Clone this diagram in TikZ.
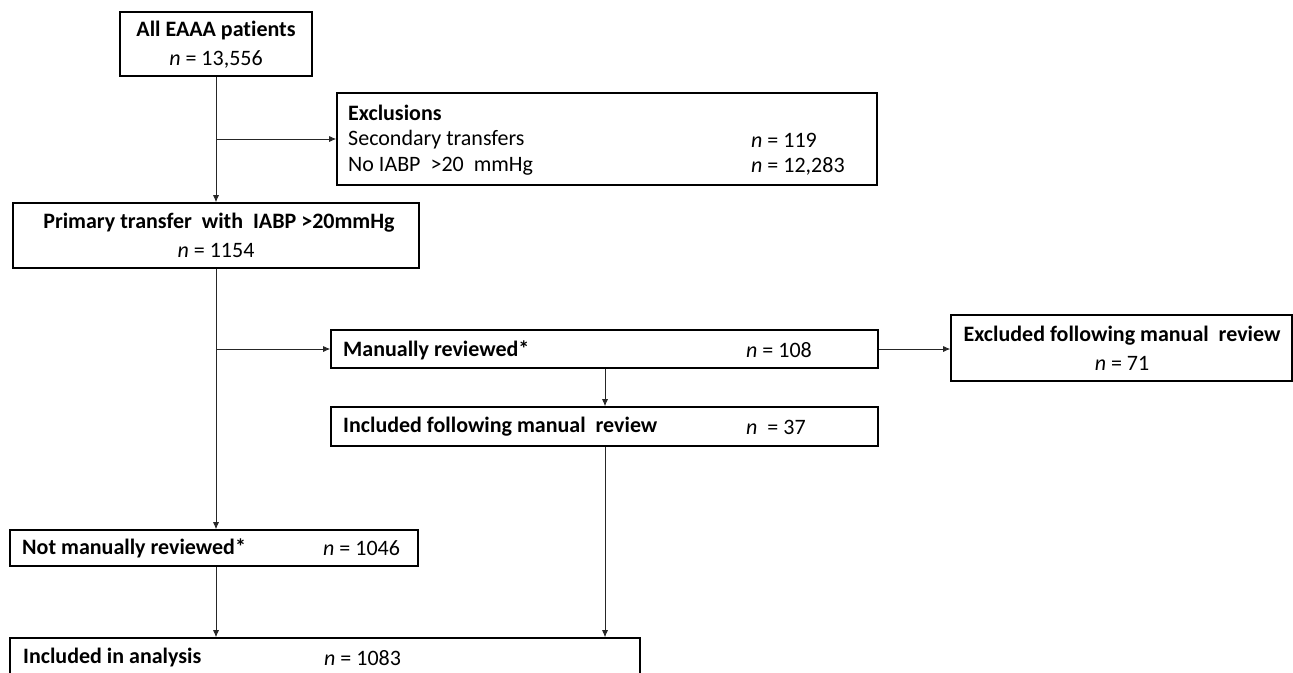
\documentclass[tikz,border=0pt]{standalone}
\usepackage{fontspec}
\setmainfont{Carlito}[Ligatures=NoCommon]
\usetikzlibrary{arrows.meta}
\begin{document}
\begin{tikzpicture}[x=1pt,y=-1pt,
  box/.style={draw=black,line width=1.6pt,inner sep=0pt,fill=white},
  txt/.style={inner sep=0pt,anchor=west,font=\fontsize{22}{26}\selectfont},
  ctxt/.style={inner sep=0pt,font=\fontsize{22}{26}\selectfont},
  arr/.style={draw=black!85,line width=0.8pt,-{Latex[length=7pt,width=6pt]}}]
\useasboundingbox (0,0) rectangle (1293,672);
% boxes
\node[box,minimum width=192pt,minimum height=64pt] (b1) at (216,44) {};
\node[box,minimum width=540pt,minimum height=92pt] (b2) at (607,139) {};
\node[box,minimum width=406pt,minimum height=65pt] (b3) at (216,235.5) {};
\node[box,minimum width=547pt,minimum height=38pt] (b4) at (604.5,349) {};
\node[box,minimum width=341pt,minimum height=66pt] (b6) at (1121.5,348) {};
\node[box,minimum width=547pt,minimum height=39pt] (b5) at (604.5,426.5) {};
\node[box,minimum width=408pt,minimum height=36pt] (b7) at (214,548) {};
\node[box,minimum width=630pt,minimum height=62pt] (b8) at (325,669) {};
% texts
\node[ctxt] (t1a) at (216,31) {\bfseries All EAAA patients};
\node[ctxt] (t1b) at (216,59) {\textit{n} = 13,556};
\node[txt] (t2a) at (348,113) {\bfseries Exclusions};
\node[txt] (t2b) at (348,140) {Secondary transfers};
\node[txt] (t2c) at (348,166) {No IABP\ \ >20\ \ mmHg};
\node[txt] (t2d) at (751,140) {\textit{n} = 119};
\node[txt] (t2e) at (751,166) {\textit{n} = 12,283};
\node[ctxt] (t3a) at (219,223) {\bfseries Primary transfer\ \ with\ \ IABP >20mmHg};
\node[ctxt] (t3b) at (216,250) {\textit{n} = 1154};
\node[txt] (t4a) at (343,350) {\bfseries Manually\ reviewed*};
\node[txt] (t4b) at (746,350) {\textit{n} = 108};
\node[ctxt] (t6a) at (1122,336) {\bfseries Excluded\ following\ manual\ \ review};
\node[ctxt] (t6b) at (1122,363) {\textit{n} = 71};
\node[txt] (t5a) at (343,427) {\bfseries Included\ following\ manual\ \ review};
\node[txt] (t5b) at (746,427) {\textit{n}\ \ = 37};
\node[txt] (t7a) at (22,548) {\bfseries Not\ manually\ reviewed*};
\node[txt] (t7b) at (323,548) {\textit{n} = 1046};
\node[txt] (t8a) at (23,658) {\bfseries Included in analysis};
\node[txt] (t8b) at (324,658) {\textit{n} = 1083};
% connectors
\coordinate (j1) at (b1.south |- b2.west);
\coordinate (j2) at (b3.south |- b4.west);
\coordinate (c5) at (605,0);
\draw[arr] (b1.south) -- (b3.north);
\draw[arr] (j1) -- (b2.west);
\draw[arr] (b3.south) -- (b3.south |- b7.north);
\draw[arr] (j2) -- (b4.west);
\draw[arr] (c5 |- b4.south) -- (c5 |- b5.north);
\draw[arr] (b4.east) -- (b4.east -| b6.west);
\draw[arr] (c5 |- b5.south) -- (c5 |- b8.north);
\draw[arr] (b3.south |- b7.south) -- (b3.south |- b8.north);
\end{tikzpicture}
\end{document}
